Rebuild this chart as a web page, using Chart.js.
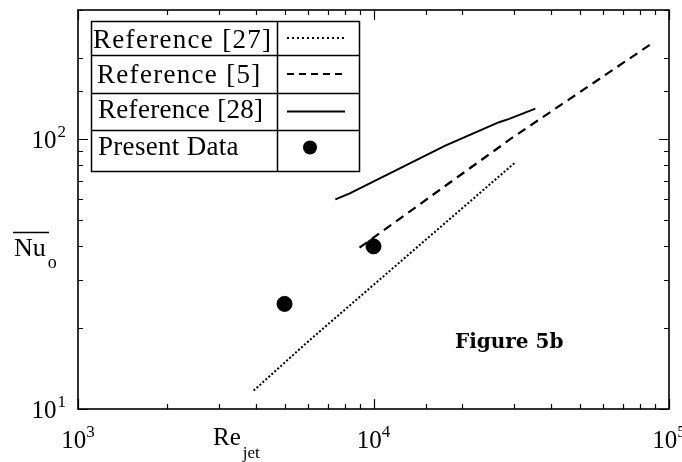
<!DOCTYPE html>
<html><head><meta charset="utf-8">
<script src="https://cdn.jsdelivr.net/npm/chart.js@4.4.0/dist/chart.umd.min.js"></script>
<style>html,body{margin:0;padding:0;background:#fff;}#wrap{width:682px;height:462px;}</style>
</head><body><div id="wrap"><canvas id="c" width="682" height="462"></canvas></div>
<script>
// ---- data ----
const ref27Re = [3930, 6050, 30200];
const ref27Nu = [11.7, 17.9, 81.9];
const ref5Re = [8970, 29500, 86700];
const ref5Nu = [39.6, 101, 224];
const ref28Re = [7430, 8280, 17500, 26600, 28800, 35300];
const ref28Nu = [59.7, 62.7, 94.4, 115.3, 118.6, 129.4];
const presentRe = [5000, 10000];
const presentNu = [24.5, 40];
const seriesLabels = ['Reference [27]', 'Reference [5]', 'Reference [28]', 'Present Data'];
const xTickLabels = {1000: ['10', '3'], 10000: ['10', '4'], 100000: ['10', '5']};
const yTickLabels = {10: ['10', '1'], 100: ['10', '2']};
const annotationText = 'Figure 5b';

const pts = (xs, ys) => xs.map((x, i) => ({x, y: ys[i]}));
const SERIF = '"Liberation Serif", "Times New Roman", serif';
const isMajor = v => Math.abs(Math.log10(v) - Math.round(Math.log10(v))) < 1e-9;

const framePlugin = {
  id: 'frame',
  afterDatasetsDraw(chart) {
    const ctx = chart.ctx, ca = chart.chartArea;
    ctx.save();
    ctx.strokeStyle = '#000';
    ctx.lineWidth = 1.6;
    ctx.strokeRect(ca.left, ca.top, ca.right - ca.left, ca.bottom - ca.top);
    ctx.lineWidth = 1.2;
    const xs = chart.scales.x, ys = chart.scales.y;
    ctx.beginPath();
    xs.ticks.forEach(t => {
      const p = Math.round(xs.getPixelForValue(t.value)) + 0.5;
      const len = isMajor(t.value) ? 10 : 5;
      ctx.moveTo(p, ca.bottom); ctx.lineTo(p, ca.bottom - len);
      ctx.moveTo(p, ca.top); ctx.lineTo(p, ca.top + len);
    });
    ys.ticks.forEach(t => {
      const p = Math.round(ys.getPixelForValue(t.value)) + 0.5;
      const len = isMajor(t.value) ? 10 : 5;
      ctx.moveTo(ca.left, p); ctx.lineTo(ca.left + len, p);
      ctx.moveTo(ca.right, p); ctx.lineTo(ca.right - len, p);
    });
    ctx.stroke();
    ctx.restore();
  },
  afterDraw(chart) {
    const ctx = chart.ctx, ca = chart.chartArea;
    const xs = chart.scales.x, ys = chart.scales.y;
    ctx.save();
    ctx.fillStyle = '#000';
    ctx.textBaseline = 'alphabetic';
    ctx.textAlign = 'left';
    // tick labels with superscript exponents
    const baseFont = '25px ' + SERIF, supFont = '17px ' + SERIF;
    xs.ticks.forEach(t => {
      const lab = xTickLabels[t.value];
      if (!lab) return;
      const p = xs.getPixelForValue(t.value);
      ctx.font = baseFont; const w1 = ctx.measureText(lab[0]).width;
      ctx.font = supFont; const w2 = ctx.measureText(lab[1]).width;
      const x0 = p - (w1 + w2) / 2;
      ctx.font = baseFont; ctx.fillText(lab[0], x0, ca.bottom + 39);
      ctx.font = supFont; ctx.fillText(lab[1], x0 + w1, ca.bottom + 28);
    });
    ys.ticks.forEach(t => {
      const lab = yTickLabels[t.value];
      if (!lab) return;
      const p = ys.getPixelForValue(t.value);
      ctx.font = baseFont; const w1 = ctx.measureText(lab[0]).width;
      ctx.font = supFont; const w2 = ctx.measureText(lab[1]).width;
      const x0 = ca.left - 13 - (w1 + w2);
      ctx.font = baseFont; ctx.fillText(lab[0], x0, p + 9);
      ctx.font = supFont; ctx.fillText(lab[1], x0 + w1 + 1, p - 2);
    });
    // x axis title: Re_jet
    ctx.font = '25px ' + SERIF;
    ctx.fillText('Re', 213, 445);
    const reW = ctx.measureText('Re').width;
    ctx.font = '17px ' + SERIF;
    ctx.fillText('jet', 213 + reW + 2, 458);
    // y axis title: overline Nu_o
    ctx.font = '26px ' + SERIF;
    ctx.fillText('Nu', 14, 256);
    const nuW = ctx.measureText('Nu').width;
    ctx.font = '18px ' + SERIF;
    ctx.fillText('o', 14 + nuW + 2, 268);
    ctx.strokeStyle = '#000'; ctx.lineWidth = 1.3;
    ctx.beginPath(); ctx.moveTo(13, 232.5); ctx.lineTo(49, 232.5); ctx.stroke();
    // annotation
    ctx.font = 'bold 20px "DejaVu Serif", serif';
    ctx.fillText(annotationText, 455, 348);

    // legend table
    const L = 91, R = 359, C = 277, rows = [21, 55, 93, 130, 171];
    const bases = [48, 83, 118, 155];
    const tx = [93, 97, 98, 98];
    const spacing = ['1.3px', '1.3px', '0.3px', '0.3px'];
    ctx.fillStyle = '#fff';
    ctx.fillRect(L, rows[0], R - L, rows[4] - rows[0]);
    ctx.strokeStyle = '#000'; ctx.lineWidth = 1.5;
    ctx.strokeRect(L + 0.5, rows[0] + 0.5, R - L, rows[4] - rows[0]);
    ctx.beginPath();
    ctx.moveTo(C + 0.5, rows[0]); ctx.lineTo(C + 0.5, rows[4]);
    for (let i = 1; i < 4; i++) { ctx.moveTo(L, rows[i] + 0.5); ctx.lineTo(R, rows[i] + 0.5); }
    ctx.stroke();
    ctx.fillStyle = '#000';
    ctx.font = '27px ' + SERIF;
    chart.data.datasets.forEach((ds, i) => {
      ctx.letterSpacing = spacing[i];
      ctx.fillText(ds.label, tx[i], bases[i]);
      ctx.letterSpacing = '0px';
      const cy = (rows[i] + rows[i + 1]) / 2;
      if (ds.showLine) {
        ctx.save();
        ctx.setLineDash(ds.legendDash || []);
        ctx.lineWidth = ds.borderWidth;
        ctx.beginPath(); ctx.moveTo(287, cy); ctx.lineTo(345, cy); ctx.stroke();
        ctx.restore();
      } else {
        ctx.beginPath(); ctx.arc(310, cy - 3, 7, 0, Math.PI * 2); ctx.fill();
      }
    });
    ctx.restore();
  }
};

new Chart(document.getElementById('c'), {
  type: 'scatter',
  data: {
    datasets: [
      {label: seriesLabels[0], data: pts(ref27Re, ref27Nu), showLine: true, borderColor: '#000', borderWidth: 2, borderDash: [2, 2], legendDash: [2, 3], pointRadius: 0, fill: false},
      {label: seriesLabels[1], data: pts(ref5Re, ref5Nu), showLine: true, borderColor: '#000', borderWidth: 2.2, borderDash: [9, 6], legendDash: [7, 5], pointRadius: 0, fill: false},
      {label: seriesLabels[2], data: pts(ref28Re, ref28Nu), showLine: true, borderColor: '#000', borderWidth: 2, borderDash: [], pointRadius: 0, fill: false},
      {label: seriesLabels[3], data: pts(presentRe, presentNu), showLine: false, backgroundColor: '#000', borderColor: '#000', pointRadius: 7.5, pointHoverRadius: 7.5}
    ]
  },
  options: {
    responsive: false,
    animation: false,
    devicePixelRatio: 1,
    layout: {padding: {top: 10, right: 13, left: 0, bottom: 0}},
    plugins: {legend: {display: false}, tooltip: {enabled: false}},
    scales: {
      x: {
        type: 'logarithmic', min: 1000, max: 100000,
        grid: {display: false, drawTicks: false},
        border: {display: false},
        ticks: {autoSkip: false, maxRotation: 0, padding: 10, color: '#000',
          font: {family: SERIF, size: 25},
          callback: () => ''},
        afterFit: s => { s.height = 53; s.paddingLeft = 0; s.paddingRight = 0; }
      },
      y: {
        type: 'logarithmic', min: 10, max: 300,
        grid: {display: false, drawTicks: false},
        border: {display: false},
        ticks: {autoSkip: false, padding: 14, color: '#000',
          font: {family: SERIF, size: 25},
          callback: () => ''},
        afterFit: s => { s.width = 78; s.paddingTop = 0; s.paddingBottom = 0; }
      }
    }
  },
  plugins: [framePlugin]
});
</script>
</body></html>
